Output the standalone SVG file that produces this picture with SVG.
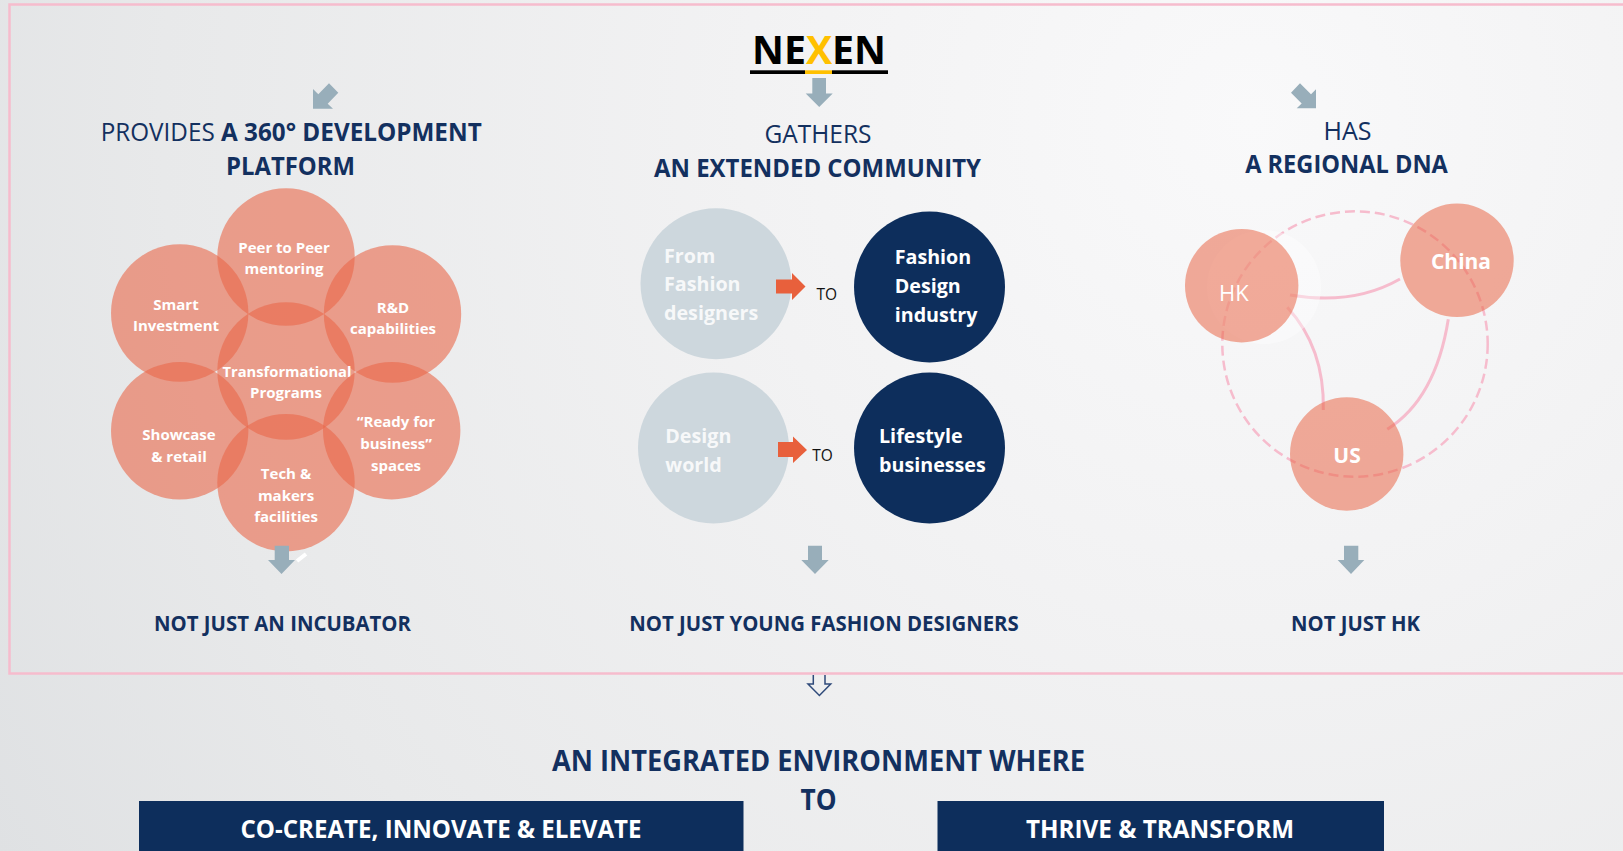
<svg xmlns="http://www.w3.org/2000/svg" width="1623" height="851" viewBox="0 0 1623 851">
<defs>
<radialGradient id="bg" gradientUnits="userSpaceOnUse" cx="1250" cy="120" r="1450">
<stop offset="0" stop-color="#f9f9fa"/><stop offset="0.35" stop-color="#f2f2f3"/><stop offset="0.75" stop-color="#e8e9ea"/><stop offset="1" stop-color="#dfe1e3"/>
</radialGradient>
</defs>
<style>
text{font-family:"Open Sans","Liberation Sans",sans-serif}
.h{fill:#13305f;font-size:25px}
.b{font-weight:700}
.c{fill:#e96749;fill-opacity:.6}
.d{fill:#e96749;fill-opacity:.55}
.t{fill:#fff;font-size:15px;font-weight:700;text-anchor:middle}
.w{fill:#fff;font-size:19.7px;font-weight:700}
.f{fill-opacity:.85}
.l{fill:#cdd7dd}
.n{fill:#0d2e5c}
.g{fill:#98aeba}
.r{fill:#e8603c}
.to{fill:#111;font-size:15.5px}
.s{fill:#13305f;font-size:21px;font-weight:700;text-anchor:middle}
.arc{fill:none;stroke:#f6bccd;stroke-width:3}
.bar{fill:#fff;font-size:25px;font-weight:700;text-anchor:middle}
.big{fill:#13305f;font-size:28px;font-weight:700;text-anchor:middle}
</style>
<rect width="1623" height="851" fill="url(#bg)"/>
<rect id="frame" x="9.5" y="4.5" width="1640" height="669" fill="none" stroke="#f6bccd" stroke-width="2.5"/>
<g id="title">
<text x="819" y="64.3" font-size="40" font-weight="700" text-anchor="middle" fill="#000" textLength="134" lengthAdjust="spacingAndGlyphs">NE<tspan fill="#ffc000">X</tspan>EN</text>
<rect x="750" y="70.3" width="55" height="3.7" fill="#000"/><rect x="805" y="70.3" width="27" height="3.7" fill="#ffc000"/><rect x="832" y="70.3" width="56" height="3.7" fill="#000"/>
</g>
<g id="col1">
<text class="h" x="291.2" y="140.7" text-anchor="middle" textLength="381" lengthAdjust="spacingAndGlyphs">PROVIDES <tspan class="b">A 360° DEVELOPMENT</tspan></text>
<text class="h b" x="290.5" y="175" text-anchor="middle" textLength="129" lengthAdjust="spacingAndGlyphs">PLATFORM</text>
<g id="n-peer"><circle class="c" cx="286" cy="257" r="68.7"/><text class="t" x="284" y="253">Peer to Peer</text><text class="t" x="284" y="274">mentoring</text></g>
<g id="n-smart"><circle class="c" cx="179.7" cy="313" r="68.7"/><text class="t" x="176" y="310">Smart</text><text class="t" x="176" y="331">Investment</text></g>
<g id="n-rd"><circle class="c" cx="392.5" cy="314" r="68.7"/><text class="t" x="393" y="313">R&amp;D</text><text class="t" x="393" y="334">capabilities</text></g>
<g id="n-trans"><circle class="c" cx="286" cy="371" r="68.7"/><text class="t" x="287" y="377" textLength="129" lengthAdjust="spacingAndGlyphs">Transformational</text><text class="t" x="286" y="398">Programs</text></g>
<g id="n-show"><circle class="c" cx="179.7" cy="430.8" r="68.7"/><text class="t" x="179" y="440">Showcase</text><text class="t" x="179" y="462">&amp; retail</text></g>
<g id="n-ready"><circle class="c" cx="391.7" cy="430.7" r="68.7"/><text class="t" x="396" y="427">“Ready for</text><text class="t" x="396" y="449">business”</text><text class="t" x="396" y="471">spaces</text></g>
<g id="n-tech"><circle class="c" cx="286" cy="482.7" r="68.7"/><text class="t" x="286" y="479">Tech &amp;</text><text class="t" x="286" y="501">makers</text><text class="t" x="286" y="522">facilities</text></g>
<text class="s" x="282.5" y="631" textLength="257" lengthAdjust="spacingAndGlyphs">NOT JUST AN INCUBATOR</text>
</g>
<g id="col2">
<text class="h" x="818" y="143" text-anchor="middle" textLength="107" lengthAdjust="spacingAndGlyphs">GATHERS</text>
<text class="h b" x="817.5" y="176.8" text-anchor="middle" textLength="327" lengthAdjust="spacingAndGlyphs">AN EXTENDED COMMUNITY</text>
<g id="n-from"><circle class="l" cx="716" cy="283.7" r="75.5"/><text class="w f" x="664" y="262.5">From</text><text class="w f" x="664" y="291">Fashion</text><text class="w f" x="664" y="320">designers</text></g>
<g id="n-fdi"><circle class="n" cx="929.5" cy="287" r="75.5"/><text class="w" x="894.7" y="263.6">Fashion</text><text class="w" x="894.7" y="293">Design</text><text class="w" x="894.7" y="321.9">industry</text></g>
<g id="n-dw"><circle class="l" cx="713.5" cy="448" r="75.5"/><text class="w f" x="665.3" y="443">Design</text><text class="w f" x="665.3" y="472">world</text></g>
<g id="n-life"><circle class="n" cx="929.5" cy="448" r="75.5"/><text class="w" x="879" y="443">Lifestyle</text><text class="w" x="879" y="472">businesses</text></g>
<text class="to" x="816.5" y="299.7">TO</text>
<text class="to" x="812.2" y="461">TO</text>
<text class="s" x="824" y="631" textLength="389.5" lengthAdjust="spacingAndGlyphs">NOT JUST YOUNG FASHION DESIGNERS</text>
</g>
<g id="col3">
<text class="h" x="1347.5" y="140" text-anchor="middle">HAS</text>
<text class="h b" x="1346.5" y="172.8" text-anchor="middle" textLength="202.7" lengthAdjust="spacingAndGlyphs">A REGIONAL DNA</text>
<circle cx="1355" cy="344" r="132.7" fill="none" stroke="#f6bccd" stroke-width="2.5" stroke-dasharray="10 5"/>
<path class="arc" d="M1290 295C1325 301 1365 299 1400 279"/>
<path class="arc" d="M1448.3 319.3Q1435.6 399 1387.3 429.3"/>
<path class="arc" d="M1287.3 307.3Q1324.7 348 1323.3 410"/>
<circle cx="1264" cy="287" r="57" fill="#fff" fill-opacity=".4"/>
<g id="n-hk"><circle class="d" cx="1241.7" cy="285.7" r="56.7"/><text x="1233.8" y="300.7" font-size="22" fill="#fff" text-anchor="middle">HK</text></g>
<g id="n-china"><circle class="d" cx="1457" cy="260.3" r="56.7"/><text x="1461" y="269" font-size="21" font-weight="700" fill="#fff" text-anchor="middle">China</text></g>
<g id="n-us"><circle class="d" cx="1346.7" cy="454" r="56.7"/><text x="1347" y="463" font-size="21" font-weight="700" fill="#fff" text-anchor="middle">US</text></g>
<text class="s" x="1355.5" y="631" textLength="129" lengthAdjust="spacingAndGlyphs">NOT JUST HK</text>
</g>
<g id="bottom">
<text class="big" x="818.5" y="770.7" textLength="533" lengthAdjust="spacingAndGlyphs">AN INTEGRATED ENVIRONMENT WHERE</text>
<text class="big" x="818.5" y="810" textLength="36" lengthAdjust="spacingAndGlyphs">TO</text>
<g id="n-co"><rect class="n" x="139" y="801" width="604.5" height="50"/><text class="bar" x="441" y="838" textLength="401" lengthAdjust="spacingAndGlyphs">CO-CREATE, INNOVATE &amp; ELEVATE</text></g>
<g id="n-thrive"><rect class="n" x="937.5" y="801" width="446.5" height="50"/><text class="bar" x="1160" y="838" textLength="268" lengthAdjust="spacingAndGlyphs">THRIVE &amp; TRANSFORM</text></g>
</g>
<g id="connectors">
<polygon class="g" points="313,108.7 313,89 318.3,94.3 329,83.3 338.3,92.7 327.7,103.7 333,108.7"/>
<polygon class="g" points="812.3,78 826,78 826,93.6 832.7,93.6 819.2,107 805.7,93.6 812.3,93.6"/>
<polygon class="g" points="1316,108.3 1316,89.3 1311,94.3 1300,83.3 1291,92.7 1301.7,103.5 1296.7,108.3"/>
<polygon class="r" points="776,279.6 792,279.6 792,273 805.5,286.4 792,300 792,293.6 776,293.6"/>
<polygon class="r" points="778,442 793,442 793,436.4 807,450 793,463 793,457 778,457"/>
<polygon class="g" points="274.7,545.7 289,545.7 289,560 295,560 281.5,574 268,560 274.7,560"/>
<line x1="297" y1="561" x2="306" y2="554" stroke="#fff" stroke-width="4"/>
<polygon class="g" points="808,545.7 822,545.7 822,560 828.7,560 815,574 801.3,560 808,560"/>
<polygon class="g" points="1344,545.7 1358.3,545.7 1358.3,560 1364.3,560 1351,574 1337.7,560 1344,560"/>
<path d="M813.3 675V684H808L819.4 695.5L830.7 684H825V675" fill="none" stroke="#2f4a7a" stroke-width="1.5"/>
</g>
</svg>
